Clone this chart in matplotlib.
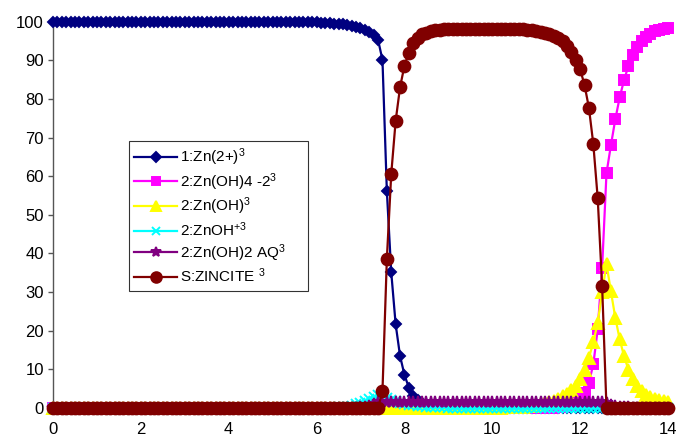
import numpy as np
import matplotlib
matplotlib.use('Agg')
import matplotlib.pyplot as plt

plt.rcParams['font.family'] = ['Liberation Sans', 'DejaVu Sans']
plt.rcParams['mathtext.fontset'] = 'custom'
plt.rcParams['mathtext.rm'] = 'Liberation Sans'
plt.rcParams['mathtext.it'] = 'Liberation Sans'
plt.rcParams['mathtext.default'] = 'regular'

# pH grid, 0 to 14 in 0.1 steps
ph = np.linspace(0, 14, 141)

# % of total Zn per species
zn2 = ([100.0] * 55 +
       [99.9, 99.9, 99.9, 99.8, 99.8, 99.8, 99.7, 99.7, 99.6, 99.5,
        99.4, 99.3, 99.1, 98.9, 98.6, 98.3, 97.9, 97.4, 96.6, 95.3] +
       [90.1, 56.1, 35.1, 21.7, 13.5, 8.6, 5.3, 3.2, 2.0, 1.3,
        0.8, 0.5, 0.3, 0.2, 0.13, 0.08] +
       [0.05, 0.03, 0.02, 0.01] +
       [0.0] * 46)

znoh4 = ([0.0] * 110 +
         [0.01, 0.02, 0.04, 0.06, 0.1, 0.18, 0.3, 0.5, 0.85, 1.4,
          2.3, 3.9, 6.6, 11.3, 20.4, 36.3] +
         [60.8, 68.0, 74.7, 80.4, 84.9, 88.6, 91.4, 93.5, 95.0, 96.1,
          96.9, 97.5, 97.9, 98.2, 98.4])

znoh3 = ([0.0] * 100 +
         [0.07, 0.09, 0.12, 0.15, 0.19, 0.24, 0.3, 0.38, 0.48, 0.6,
          0.75, 0.95, 1.2, 1.5, 1.9, 2.4, 3.0, 3.7, 4.6, 5.8,
          7.4, 9.8, 13.0, 17.0, 22.1, 29.9] +
         [37.3, 30.2, 23.4, 17.8, 13.4, 9.9, 7.4, 5.6, 4.3, 3.4,
          2.8, 2.3, 2.0, 1.8, 1.6])

znoh = ([0.0] * 60 +
        [0.04, 0.05, 0.06, 0.08, 0.1, 0.15, 0.2, 0.35, 0.6, 1.0,
         1.4, 1.8, 2.3, 2.8, 3.3] +
        [3.4, 2.7, 2.1, 1.7, 1.35, 1.05, 0.85, 0.65, 0.5, 0.4,
         0.32, 0.25, 0.2, 0.16, 0.13, 0.1, 0.08, 0.06, 0.05, 0.04,
         0.03, 0.03, 0.02, 0.02, 0.02] +
        [0.01] * 41)

znoh2aq = ([0.0] * 70 +
           [0.2, 0.35, 0.6, 0.95, 1.5] +
           [1.65] * 51 +
           [1.3, 0.85, 0.55, 0.35, 0.22, 0.14, 0.09, 0.06, 0.04, 0.03,
            0.02, 0.01, 0.01, 0.0, 0.0])

zincite = ([0.0] * 75 +
           [4.4, 38.6, 60.6, 74.3, 83.0, 88.6, 92.0, 94.5, 95.8, 96.7,
            97.2, 97.6, 97.8, 97.95, 98.05, 98.1] +
           [98.2] * 14 +
           [98.1, 98.05, 98.0, 97.9, 97.8, 97.6, 97.4, 97.1, 96.8, 96.4,
            95.9, 95.0, 93.8, 92.2, 90.2, 87.7, 83.6, 77.7, 68.3, 54.3, 31.7] +
           [0.0] * 15)

labels = ['1:Zn(2+)$^3$', '2:Zn(OH)4 -2$^3$', '2:Zn(OH)$^3$',
          '2:ZnOH$^{+3}$', '2:Zn(OH)2 AQ$^3$', 'S:ZINCITE $^3$']
series = [zn2, znoh4, znoh3, znoh, znoh2aq, zincite]
colors = ['#000080', '#FF00FF', '#FFFF00', '#00FFFF', '#800080', '#800000']
markers = ['D', 's', '^', 'x', '*', 'o']
msizes = [5.5, 7.0, 8.0, 6.5, 8.5, 8.5]

fig = plt.figure(figsize=(6.92, 4.37), dpi=100)
ax = fig.add_axes([53 / 692, 29 / 437, (668 - 53) / 692, (408 - 21.7) / 437])

for i, (vals, c, m, ms, lab) in enumerate(zip(series, colors, markers, msizes, labels)):
    ax.plot(ph, vals, color=c, marker=m, markersize=ms, markerfacecolor=c,
            markeredgecolor=c, markeredgewidth=1.4, linewidth=1.6,
            label=lab, clip_on=False, zorder=3 + i)

ax.set_xlim(0, 14)
ax.set_ylim(0, 100)
ax.set_xticks(np.arange(0, 15, 2))
ax.set_yticks(np.arange(0, 101, 10))
for s in ['top', 'right', 'bottom']:
    ax.spines[s].set_visible(False)
ax.spines['left'].set_color('#555555')
ax.spines['left'].set_linewidth(1.0)
ax.tick_params(axis='y', direction='out', length=3.6, width=1.0,
               color='#555555', labelsize=12, pad=3)
ax.tick_params(axis='x', length=0, labelsize=12, pad=10)

x0, y0 = 129 / 692, 1 - 141 / 437
w, h = (308 - 129) / 692, (287 - 141) / 437
leg = ax.legend(loc='upper left', bbox_to_anchor=(x0, y0 - h, w, h),
                bbox_transform=fig.transFigure, mode='expand',
                borderaxespad=0, fancybox=False, frameon=True,
                edgecolor='black', fontsize=11, handlelength=2.8,
                handletextpad=0.2, labelspacing=0.2, borderpad=0.35,
                markerscale=0.9)
leg.get_frame().set_linewidth(0.8)

fig.savefig('out.png', dpi=100)
